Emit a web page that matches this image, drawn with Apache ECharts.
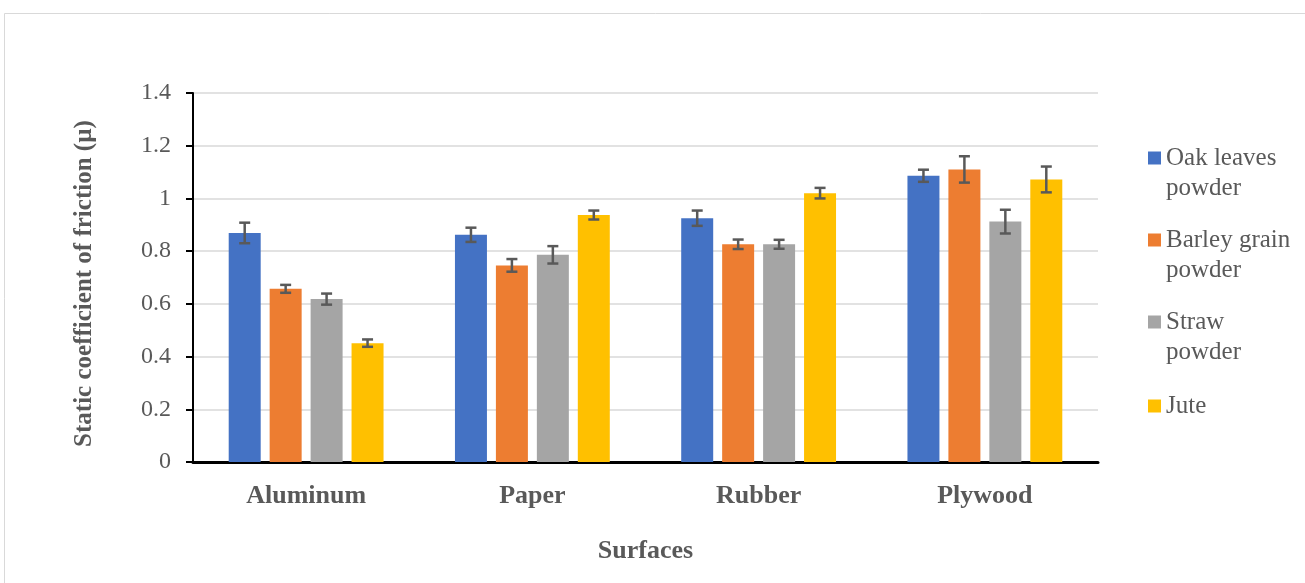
<!DOCTYPE html>
<html>
<head>
<meta charset="utf-8">
<script src="https://cdn.jsdelivr.net/npm/echarts@6/dist/echarts.min.js"></script>
<style>
  html, body { margin: 0; padding: 0; background: #ffffff; }
  #chart { width: 1305px; height: 583px; }
</style>
</head>
<body>
<div id="chart"></div>
<script>
// Surfaces tested
const categories = ['Aluminum', 'Paper', 'Rubber', 'Plywood'];

// Materials (series) and their mean static friction coefficients
const seriesNames = ['Oak leaves powder', 'Barley grain powder', 'Straw powder', 'Jute'];
const oakLeaves = [0.869, 0.862, 0.925, 1.086];
const barleyGrain = [0.657, 0.746, 0.826, 1.110];
const straw = [0.618, 0.786, 0.826, 0.912];
const jute = [0.451, 0.937, 1.020, 1.072];

// Error bar half-lengths (± deviation)
const oakLeavesErr = [0.039, 0.027, 0.029, 0.023];
const barleyGrainErr = [0.015, 0.024, 0.018, 0.050];
const strawErr = [0.021, 0.033, 0.017, 0.045];
const juteErr = [0.014, 0.017, 0.020, 0.049];

// Y axis ticks
const yMin = 0, yMax = 1.4, yStep = 0.2;

const values = [oakLeaves, barleyGrain, straw, jute];
const errors = [oakLeavesErr, barleyGrainErr, strawErr, juteErr];
const colors = ['#4472C4', '#ED7D31', '#A5A5A5', '#FFC000'];

const FONT = "'Liberation Serif', 'Times New Roman', serif";
const TEXT = '#595959';
const BAR_W = 0.1414;   // fraction of category band
const BAR_GAP = 0.28;   // fraction of bar width

const chart = echarts.init(document.getElementById('chart'), null, { renderer: 'canvas' });

function errorRenderer(idx) {
  const n = values.length;
  return function (params, api) {
    const ci = api.value(0);
    const v = api.value(1);
    const e = api.value(2);
    const band = api.size([1, 0])[0];
    const bw = band * BAR_W;
    const off = (idx - (n - 1) / 2) * (bw * (1 + BAR_GAP));
    const top = api.coord([ci, v + e]);
    const bot = api.coord([ci, v - e]);
    const cx = top[0] + off;
    const cap = 5.5;
    const style = { stroke: '#595959', lineWidth: 2.5 };
    return {
      type: 'group',
      children: [
        { type: 'line', shape: { x1: cx, y1: top[1], x2: cx, y2: bot[1] }, style },
        { type: 'line', shape: { x1: cx - cap, y1: top[1], x2: cx + cap, y2: top[1] }, style },
        { type: 'line', shape: { x1: cx - cap, y1: bot[1], x2: cx + cap, y2: bot[1] }, style }
      ]
    };
  };
}

const barSeries = seriesNames.map((name, i) => ({
  name,
  type: 'bar',
  data: values[i],
  barWidth: (BAR_W * 100) + '%',
  barGap: (BAR_GAP * 100) + '%',
  itemStyle: { color: colors[i] },
  emphasis: { disabled: true },
  z: 2
}));

const errSeries = seriesNames.map((name, i) => ({
  name: name + ' error',
  type: 'custom',
  renderItem: errorRenderer(i),
  data: values[i].map((v, k) => [k, v, errors[i][k]]),
  encode: { x: 0, y: [1] },
  z: 10,
  silent: true
}));

// One legend block per series. Wrapped names get a leading blank line so the
// marker lines up with the first text line (the marker sits at the block's middle).
const legendTops = [113, 195, 277, 391];
const legends = seriesNames.map((name, i) => ({
  data: [name],
  orient: 'vertical',
  left: 1148,
  top: legendTops[i],
  padding: 0,
  icon: 'rect',
  itemWidth: 13,
  itemHeight: 13,
  selectedMode: false,
  formatter: n => (n.indexOf(' powder') > 0 ? ' \n' + n.replace(' powder', '\npowder') : n),
  textStyle: {
    fontFamily: FONT,
    fontSize: 25,
    color: TEXT,
    lineHeight: 30
  }
}));

chart.setOption({
  backgroundColor: '#ffffff',
  animation: false,
  graphic: [{
    type: 'rect',
    shape: { x: 4.5, y: 13.5, width: 1400, height: 700 },
    style: { fill: 'none', stroke: '#d9d9d9', lineWidth: 1 },
    silent: true
  }],
  legend: legends,
  grid: { left: 193, right: 207, top: 93, bottom: 121, containLabel: false },
  xAxis: {
    type: 'category',
    data: categories,
    name: 'Surfaces',
    nameLocation: 'middle',
    nameGap: 76,
    nameTextStyle: { fontFamily: FONT, fontSize: 26, fontWeight: 'bold', color: TEXT },
    axisLine: { lineStyle: { color: '#000000', width: 3 } },
    axisTick: { show: false },
    axisLabel: { fontFamily: FONT, fontSize: 26, fontWeight: 'bold', color: TEXT, margin: 21 },
    splitLine: { show: false }
  },
  yAxis: {
    type: 'value',
    min: yMin,
    max: yMax,
    interval: yStep,
    name: 'Static coefficient of friction (µ)',
    nameLocation: 'middle',
    nameGap: 96,
    nameRotate: 90,
    nameTextStyle: { fontFamily: FONT, fontSize: 25, fontWeight: 'bold', color: TEXT, padding: [0, 12, 0, 0] },
    axisLine: { show: true, lineStyle: { color: '#000000', width: 2 } },
    axisTick: { show: true, inside: false, length: 7, lineStyle: { color: '#000000', width: 2 } },
    axisLabel: { fontFamily: FONT, fontSize: 24, color: TEXT, margin: 22 },
    splitLine: { show: true, lineStyle: { color: '#d9d9d9', width: 1.5 } }
  },
  series: barSeries.concat(errSeries)
});
</script>
</body>
</html>
